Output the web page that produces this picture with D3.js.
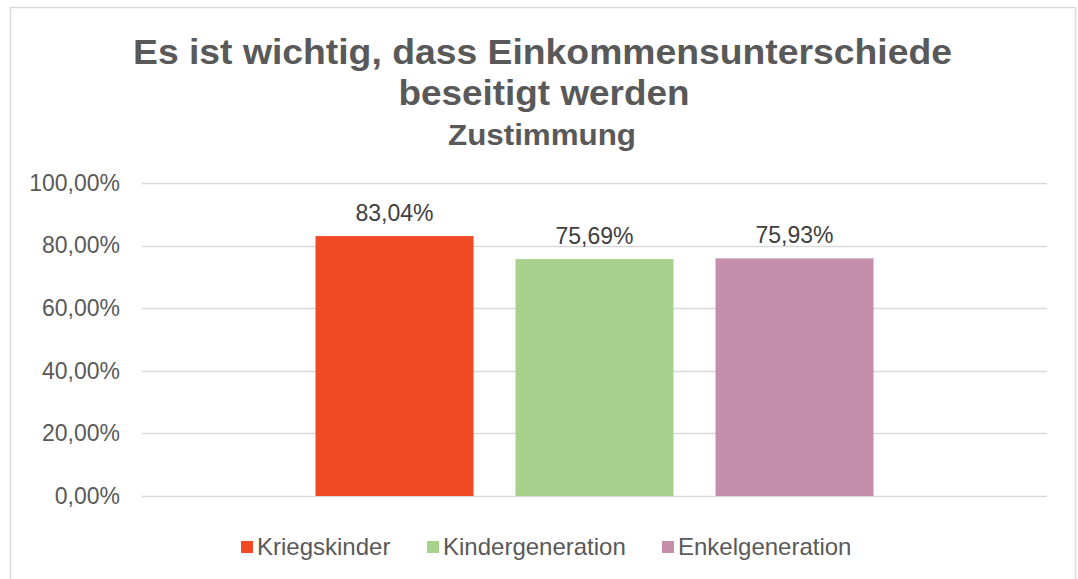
<!DOCTYPE html>
<html>
<head>
<meta charset="utf-8">
<script src="https://cdn.jsdelivr.net/npm/d3@7"></script>
<style>
  html, body { margin: 0; padding: 0; background: #fff; }
  svg { display: block; font-family: "Liberation Sans", Arial, sans-serif; }
</style>
</head>
<body>
<div id="chart"></div>
<script>
// Daten
const series = ["Kriegskinder", "Kindergeneration", "Enkelgeneration"];
const values = [83.04, 75.69, 75.93];
const colors = ["#F04923", "#A8D08D", "#C58EAB"];
const yTicks = [0, 20, 40, 60, 80, 100];
const titleLines = ["Es ist wichtig, dass Einkommensunterschiede", "beseitigt werden"];
const subtitle = "Zustimmung";

const width = 1078, height = 579;
const plot = { left: 142, right: 1047, top: 183, bottom: 496 };

const de = d3.formatLocale({ decimal: ",", thousands: ".", grouping: [3], currency: ["", " €"] });
const fmt = v => de.format(".2f")(v) + "%";

const svg = d3.select("#chart").append("svg")
  .attr("width", width)
  .attr("height", height);

// Rahmen
svg.append("rect")
  .attr("x", 10.5).attr("y", 7.5)
  .attr("width", 1065).attr("height", 620)
  .attr("fill", "#fff")
  .attr("stroke", "#d9d9d9")
  .attr("stroke-width", 1.5);

// Titel (Excel-Schrift etwas breiter -> textLength)
const titleSpec = [
  { text: titleLines[0], x: 542.5, y: 64, size: 35, len: 819 },
  { text: titleLines[1], x: 544, y: 105, size: 35, len: 291 },
  { text: subtitle,      x: 542, y: 145, size: 30, len: 188 }
];
svg.append("g")
  .selectAll("text")
  .data(titleSpec)
  .join("text")
  .attr("x", d => d.x).attr("y", d => d.y)
  .attr("text-anchor", "middle")
  .attr("font-size", d => d.size)
  .attr("font-weight", "bold")
  .attr("fill", "#595959")
  .attr("textLength", d => d.len)
  .attr("lengthAdjust", "spacingAndGlyphs")
  .text(d => d.text);

// Skalen
const y = d3.scaleLinear().domain([0, 100]).range([plot.bottom, plot.top]);
const x = d3.scaleBand().domain(series)
  .range([plot.left, plot.right])
  .paddingInner(0.21)
  .paddingOuter(0.8675);

// Gitterlinien
svg.append("g")
  .selectAll("line")
  .data(yTicks)
  .join("line")
  .attr("x1", plot.left).attr("x2", plot.right)
  .attr("y1", d => Math.round(y(d)) + 0.5)
  .attr("y2", d => Math.round(y(d)) + 0.5)
  .attr("stroke", "#d9d9d9")
  .attr("stroke-width", 1.5);

// Y-Achse
const yAxis = svg.append("g")
  .attr("transform", `translate(${plot.left},0)`)
  .call(d3.axisLeft(y).tickValues(yTicks).tickFormat(fmt).tickSize(0).tickPadding(22));
yAxis.select(".domain").remove();
yAxis.selectAll("text")
  .attr("font-size", 23)
  .attr("font-family", "'Liberation Sans', Arial, sans-serif")
  .attr("fill", "#595959");

// Balken
svg.append("g")
  .selectAll("rect")
  .data(series)
  .join("rect")
  .attr("x", d => x(d))
  .attr("width", x.bandwidth())
  .attr("y", (d, i) => y(values[i]))
  .attr("height", (d, i) => y(0) - y(values[i]))
  .attr("fill", (d, i) => colors[i]);

// Datenbeschriftungen
svg.append("g")
  .selectAll("text")
  .data(series)
  .join("text")
  .attr("x", d => x(d) + x.bandwidth() / 2)
  .attr("y", (d, i) => y(values[i]) - 15)
  .attr("text-anchor", "middle")
  .attr("font-size", 23)
  .attr("fill", "#404040")
  .text((d, i) => fmt(values[i]));

// Legende
const legendX = [241, 427, 662];
const legend = svg.append("g")
  .selectAll("g")
  .data(series)
  .join("g")
  .attr("transform", (d, i) => `translate(${legendX[i]},541)`);
legend.append("rect")
  .attr("width", 12).attr("height", 12)
  .attr("fill", (d, i) => colors[i]);
legend.append("text")
  .attr("x", 16).attr("y", 14)
  .attr("font-size", 24)
  .attr("fill", "#595959")
  .text(d => d);
</script>
</body>
</html>
